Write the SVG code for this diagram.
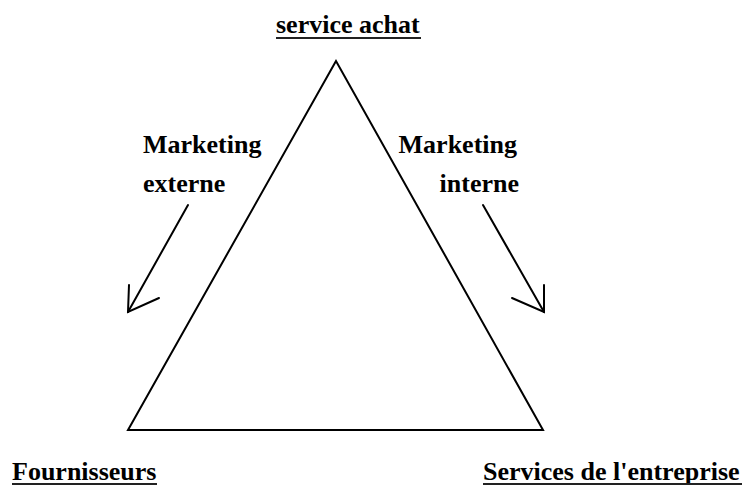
<svg xmlns="http://www.w3.org/2000/svg" width="747" height="487" viewBox="0 0 747 487">
<style>
text{font-family:"Liberation Serif","Times New Roman",serif;font-weight:bold;font-size:26px;fill:#000}
.ln{stroke:#000;stroke-width:2;fill:none;stroke-linecap:round;stroke-linejoin:miter}
.ul{stroke:#222;stroke-width:2}
</style>
<rect width="747" height="487" fill="#fff"/>
<g id="triangle">
<polygon class="ln" points="336,61 128,430 543,430"/>
</g>
<g id="service-achat">
<text x="276" y="33">service achat</text>
<line class="ul" x1="276" y1="38" x2="421" y2="38"/>
</g>
<g id="fournisseurs">
<text x="12" y="480">Fournisseurs</text>
<line class="ul" x1="12" y1="484" x2="157" y2="484"/>
</g>
<g id="services-entreprise">
<text x="483" y="480">Services de l'entreprise</text>
<line class="ul" x1="483" y1="484" x2="742" y2="484"/>
</g>
<g id="marketing-externe">
<text x="143" y="153">Marketing</text>
<text x="143" y="192">externe</text>
</g>
<g id="marketing-interne">
<text x="517" y="153" text-anchor="end">Marketing</text>
<text x="519" y="192" text-anchor="end">interne</text>
</g>
<g id="connectors">
<line class="ln" x1="188" y1="205" x2="128" y2="312"/>
<polyline class="ln" points="129,285 128,312 159,298"/>
<line class="ln" x1="483" y1="205" x2="544" y2="312"/>
<polyline class="ln" points="544,285 544,312 512,298"/>
</g>
</svg>
